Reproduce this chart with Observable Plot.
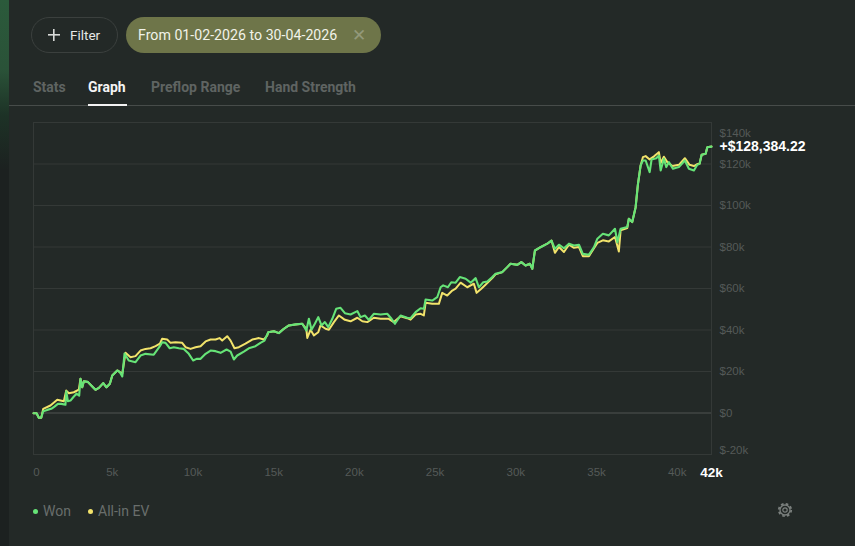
<!DOCTYPE html>
<html>
<head>
<meta charset="utf-8">
<script src="https://cdn.jsdelivr.net/npm/d3@7"></script>
<script src="https://cdn.jsdelivr.net/npm/@observablehq/plot@0.6"></script>
<style>
html,body{margin:0;padding:0;background:#232927;width:855px;height:546px;overflow:hidden;font-family:Roboto,sans-serif}
.abs{position:absolute;white-space:nowrap}
#strip{left:0;top:0;width:9px;height:546px;background:linear-gradient(to bottom,#2b5a3b 0,#2a5238 70px,#1d3226 115px,#1c2120 170px,#1c2120 100%)}
#filter{left:31px;top:17px;width:85px;height:34px;border:1px solid #3b403e;border-radius:18px}
#plus{left:48px;top:29px;width:12px;height:12px;background:linear-gradient(#d8dad8,#d8dad8) center/100% 1.6px no-repeat,linear-gradient(#d8dad8,#d8dad8) center/1.6px 100% no-repeat}
#filterText{left:70px;top:27px;font-size:13.5px;line-height:16px;color:#e6e8e6}
#date{left:126px;top:17px;width:255px;height:36px;border-radius:18px;background:#6e7549}
#dateText{left:138px;top:27px;font-size:14.2px;line-height:16px;color:#f1f2e8}
#dateX{left:352px;top:26px;font-size:17px;line-height:18px;color:#93997a}
.tab{top:79px;font-size:14px;line-height:17px;font-weight:700;color:#5f6462}
#rule{left:9px;top:105px;width:846px;height:1px;background:#474c4a}
#under{left:88px;top:104px;width:39px;height:1.5px;background:#f2f2f2}
.dot{width:5px;height:5px;border-radius:50%;top:508.5px}
.leg{top:503px;font-size:14px;line-height:17px;color:#696e6c}
#chart{left:0;top:110px}
#gear{left:777px;top:502px}
</style>
</head>
<body>
<div class="abs" id="strip"></div>
<div class="abs" id="filter"></div><div class="abs" id="plus"></div><div class="abs" id="filterText">Filter</div>
<div class="abs" id="date"></div><div class="abs" id="dateText">From 01-02-2026 to 30-04-2026</div><div class="abs" id="dateX">✕</div>
<div class="abs tab" style="left:33px">Stats</div>
<div class="abs tab" style="left:88px;color:#f4f4f4">Graph</div>
<div class="abs tab" style="left:151px">Preflop Range</div>
<div class="abs tab" style="left:265px">Hand Strength</div>
<div class="abs" id="rule"></div><div class="abs" id="under"></div>
<div class="abs" id="chart"></div>
<div class="abs dot" style="left:33px;background:#66e377"></div><div class="abs leg" style="left:43px">Won</div>
<div class="abs dot" style="left:88px;background:#f2e36b"></div><div class="abs leg" style="left:98px">All-in EV</div>
<svg class="abs" id="gear" width="16" height="16" viewBox="0 0 16 16" fill="none" stroke="#7b807e">
<circle cx="8" cy="8" r="2.2" stroke-width="1.2"/><circle cx="8" cy="8" r="5" stroke-width="1.3"/><circle cx="8" cy="8" r="6.2" stroke-width="1.8" stroke-dasharray="2.6 2.27"/>
</svg>
<script>
// hands played, thousands
const wonHands=[0,.19,.33,.48,.6,.85,1.1,1.3,1.51,1.72,1.98,2.03,2.13,2.29,2.46,2.66,2.83,2.91,3.02,3.12,3.36,3.64,3.84,4.05,4.32,4.52,4.73,4.88,5.19,5.35,5.5,5.64,5.9,6.32,6.63,6.94,7.45,7.83,7.97,8.18,8.44,8.69,9,9.31,9.62,9.89,10.1,10.35,10.66,10.97,11.28,11.59,11.96,12.21,12.41,12.62,13.03,13.34,13.75,14.06,14.31,14.54,14.89,15.2,15.51,15.82,16.23,16.65,16.9,17.06,17.22,17.43,17.64,17.84,18.05,18.26,18.51,18.75,19.02,19.29,19.64,20.06,20.26,20.53,20.77,21.08,21.5,21.91,22.18,22.39,22.74,23.15,23.36,23.67,23.98,24.18,24.29,24.7,25.01,25.22,25.38,25.67,25.88,26.15,26.41,26.77,27.08,27.39,27.59,27.86,28.11,28.42,28.62,29.04,29.35,29.55,29.97,30.22,30.48,30.75,30.9,31.06,31.41,31.83,32.09,32.3,32.55,32.86,33.17,33.48,33.79,34.03,34.41,34.72,34.93,35.27,35.64,36.02,36.17,36.37,36.78,36.88,37.09,37.3,37.44,37.61,37.75,37.92,38.17,38.29,38.58,38.74,38.85,39.05,39.2,39.36,39.61,39.98,40.35,40.6,40.91,41.12,41.26,41.39,41.64,41.74,42];
// cumulative winnings, $ thousands
const wonK=[-.1,-.1,-2.3,-2.3,.9,1.5,2,3.1,4.4,4.4,4,10.5,5.7,6,7.6,9.3,8.4,16.5,12.4,15.3,15,12.8,11.2,12.1,14.4,12.4,14.1,18.1,20.5,19.7,17.6,28.7,25.3,24.5,27.7,28.5,28.1,32.2,34.1,33.8,31.2,31.7,31.2,30.9,28.5,25.3,26.1,26.1,28.5,30.1,29.8,29,30.6,29.6,25.8,27.7,29.6,31.2,32.2,33.8,34.9,38.9,39.4,38.5,40.6,42.2,42.7,43,39.8,45.4,40.1,43,46.2,42.2,43.8,41.4,45.4,50.2,50.7,48.1,47.5,49.1,46.2,47,44.9,47.8,47.5,47.8,45.4,43,47,45.9,45.7,48.6,50.5,50.2,54.7,54.2,55.8,60.6,61.5,60.6,63,62.8,65.5,64.7,62.8,65,60.6,63,63.4,65.5,67.1,67.9,70.3,71.9,71.4,72.7,71.1,71.9,69.5,78.3,79.9,81.6,83.1,79.1,81.1,79.4,81.6,80.7,81.1,76.7,76.3,79.9,84,86.4,85.6,88.8,82.3,88.8,89.6,93.6,92,99.2,110.1,119.3,121.7,121.7,116.1,122.2,122.8,124.1,116.9,122.5,118.5,120.9,117.7,118.5,121.7,117.7,116.9,119.6,120.1,124.5,124.9,128.1,128.38];
const evHands=[0,.19,.33,.48,.6,1.05,1.47,1.88,2.03,2.19,2.5,2.81,2.91,3.02,3.12,3.36,3.64,3.84,4.05,4.32,4.52,4.73,4.88,5.19,5.35,5.5,5.7,6.01,6.32,6.63,6.94,7.25,7.56,7.83,7.97,8.28,8.49,8.8,9.21,9.42,9.73,10.04,10.35,10.66,10.97,11.28,11.52,11.69,12,12.21,12.45,12.72,13.13,13.55,13.96,14.27,14.48,14.54,14.89,15.2,15.51,15.82,16.23,16.65,16.9,16.96,17.16,17.37,17.64,17.78,18.09,18.3,18.61,18.92,19.29,19.64,20.06,20.37,20.68,21.08,21.5,22.01,22.32,22.74,23.15,23.36,23.67,23.98,24.18,24.29,24.7,25.11,25.32,25.63,25.94,26.15,26.46,26.87,27.28,27.45,27.74,28,28.42,28.62,29.04,29.35,29.55,29.97,30.22,30.48,30.75,30.9,31.06,31.41,31.83,32.09,32.3,32.55,32.86,33.17,33.48,33.79,34.03,34.41,34.72,34.93,35.27,35.64,36.02,36.26,36.37,36.78,36.88,37.09,37.3,37.44,37.61,37.75,37.92,38.17,38.46,38.74,38.85,39.05,39.26,39.58,39.98,40.35,40.64,40.91,41.12,41.26,41.39,41.64,41.74,42];
const evK=[-.1,-.1,-2.3,-2.3,2,3.6,6.4,5.7,10.8,9.5,10,11.3,16.5,12.4,15.3,15,12.8,11.2,12.1,14.4,12.4,14.1,18.1,20.5,19.7,19,29,26.9,27.4,30.1,30.9,31.2,32.2,33.4,35.8,35.4,33.8,34.1,33.8,31.7,30.9,31.7,32.2,34.5,35.4,35.4,36.1,34.9,37,34.9,31.2,31.7,33.4,35.4,36.1,35.4,37.4,38.9,39.4,38.5,40.6,42.2,42.7,43,40.6,36.2,40.1,37.4,38.9,42.2,40.6,40.1,43.8,47,44.9,44.2,45.9,44.2,43.8,45.9,45.4,45.4,43.8,46.6,45.7,45,47.5,47.8,47,53.1,52.6,52.6,57.9,56.6,59,59.9,62.8,60.6,62.3,57.9,59.9,61.8,65,66.8,67.9,70.3,71.9,71.4,72.7,71.1,71.9,69.5,78.3,79.9,81.6,83.1,77.2,80,77.6,81.1,79.6,80,75.6,75.6,79.4,82,83.2,82.7,84.8,77.8,88,89.1,93.6,92,99.2,110.1,119.3,123.3,123.8,122.2,123.8,125.7,120.5,123.5,120.9,119,119.6,122.8,119.6,119,120,120.1,124.5,124.9,128.1,128.38];

const xTicks=[0,5,10,15,20,25,30,35,40];
const lastTick=[42];
const yGrid=[-20,0,20,40,60,80,100,120,140];
const yMiddle=[0,20,40,60,80,100,120];
const totalLabel="+$128,384.22";
const won=wonHands.map((h,i)=>({h,v:wonK[i]}));
const ev=evHands.map((h,i)=>({h,v:evK[i]}));
const kx=d=>d===0?"0":d+"k", ky=d=>d===0?"$0":"$"+d+"k";
const tickFill="#555a58";
const axisFont={fontFamily:"Liberation Sans, Arial, sans-serif",fontSize:11.5};

const chart=Plot.plot({
  width:855,height:370,
  marginLeft:33,marginRight:144,marginTop:12,marginBottom:26,
  style:{background:"transparent",overflow:"visible"},
  x:{domain:[0,42]},
  y:{domain:[-20,140]},
  marks:[
    Plot.ruleY(yGrid.filter(d=>d!==0),{stroke:"#343937",strokeWidth:1}),
    Plot.ruleY([0],{stroke:"#505553",strokeWidth:1}),
    Plot.frame({stroke:"#343937",strokeWidth:1}),
    Plot.line(ev,{x:"h",y:"v",stroke:"#f2e36b",strokeWidth:2}),
    Plot.line(won,{x:"h",y:"v",stroke:"#66e377",strokeWidth:2.1}),
    Plot.axisX(xTicks.slice(1),{anchor:"bottom",tickSize:0,tickPadding:13,tickFormat:kx,fill:tickFill,label:null,dx:-2,...axisFont}),
    Plot.axisX([0],{anchor:"bottom",tickSize:0,tickPadding:13,tickFormat:kx,fill:tickFill,label:null,dx:3,...axisFont}),
    Plot.axisX(lastTick,{anchor:"bottom",tickSize:0,tickPadding:13,tickFormat:kx,fill:"#ffffff",label:null,fontWeight:700,fontFamily:axisFont.fontFamily,fontSize:13.5}),
    Plot.axisY(yMiddle,{anchor:"right",tickSize:0,tickPadding:8,tickFormat:ky,fill:tickFill,label:null,textAnchor:"start",...axisFont}),
    Plot.axisY([140],{anchor:"right",tickSize:0,tickPadding:8,tickFormat:ky,fill:tickFill,label:null,textAnchor:"start",dy:11,...axisFont}),
    Plot.axisY([-20],{anchor:"right",tickSize:0,tickPadding:8,tickFormat:ky,fill:tickFill,label:null,textAnchor:"start",dy:-4,...axisFont}),
    Plot.text([totalLabel],{x:()=>42,y:()=>128.384,text:d=>d,textAnchor:"start",dx:8,fill:"#ffffff",fontWeight:700,fontSize:14,fontFamily:axisFont.fontFamily})
  ]
});
document.getElementById("chart").appendChild(chart);
</script>
</body>
</html>
